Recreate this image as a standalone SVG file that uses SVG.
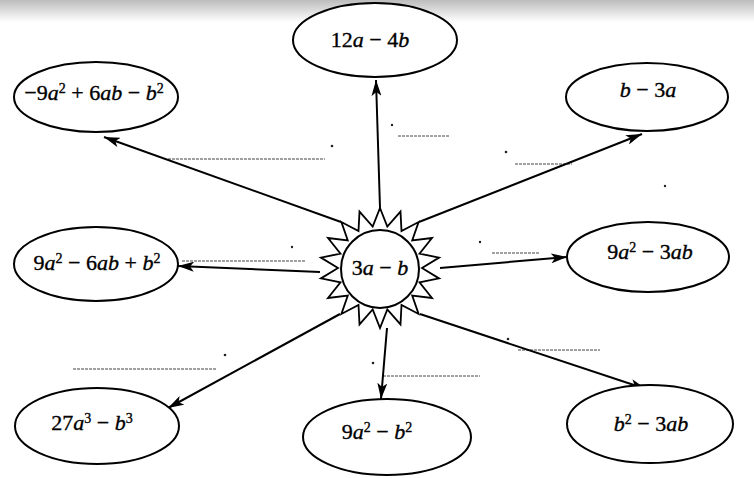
<svg xmlns="http://www.w3.org/2000/svg" width="754" height="478" viewBox="0 0 754 478">
<defs>
<linearGradient id="scan" x1="0" y1="0" x2="0" y2="1">
<stop offset="0" stop-color="#bdbdbd"/>
<stop offset="1" stop-color="#ffffff"/>
</linearGradient>
<marker id="arr" viewBox="0 0 16 10" refX="16" refY="5" markerWidth="16" markerHeight="10" orient="auto" markerUnits="userSpaceOnUse">
<path d="M0,0 L16,5 L0,10 L4,5 z" fill="#000"/>
</marker>
<style>
.node ellipse{fill:#fff;stroke:#000;stroke-width:2}
.lbl{font-family:"Liberation Serif",serif;font-size:22px;fill:#000;stroke:#000;stroke-width:0.35;text-anchor:middle}
.v{font-style:italic}
.sup{font-size:14px}
.conn line{stroke:#000;stroke-width:2;marker-end:url(#arr)}
.blank line{stroke:#444;stroke-width:1;stroke-dasharray:3 1}
.blank circle{fill:#222}
</style>
</defs>
<rect width="754" height="478" fill="#fff"/>
<rect width="754" height="22" fill="url(#scan)"/>

<g id="blanks" class="blank">
<line x1="168" y1="159" x2="325" y2="159"/>
<line x1="398" y1="136" x2="450" y2="136"/>
<line x1="515" y1="164" x2="572" y2="164"/>
<line x1="182" y1="261" x2="305" y2="261"/>
<line x1="492" y1="253" x2="540" y2="253"/>
<line x1="73" y1="369" x2="217" y2="369"/>
<line x1="383" y1="376" x2="480" y2="376"/>
<line x1="518" y1="350" x2="600" y2="350"/>
<circle cx="332" cy="146" r="1.3"/>
<circle cx="392" cy="125" r="1.2"/>
<circle cx="506" cy="152" r="1.3"/>
<circle cx="292" cy="247" r="1.2"/>
<circle cx="480" cy="242" r="1.2"/>
<circle cx="225" cy="355" r="1.3"/>
<circle cx="373" cy="363" r="1.3"/>
<circle cx="508" cy="339" r="1.3"/>
<circle cx="665" cy="186" r="1.2"/>
</g>

<g id="connectors" class="conn">
<line x1="380" y1="208" x2="376" y2="80"/>
<line x1="341" y1="222" x2="104" y2="137"/>
<line x1="419" y1="222" x2="642" y2="134"/>
<line x1="320" y1="272" x2="178" y2="266"/>
<line x1="440" y1="268" x2="567" y2="257"/>
<line x1="340" y1="314" x2="168" y2="408"/>
<line x1="387" y1="328" x2="381" y2="399"/>
<line x1="420" y1="314" x2="646" y2="389"/>
</g>

<g id="center" class="node">
<polygon points="380,208 387.3,226.6 400.5,211.6 401.5,231.1 418.6,222.0 412.2,240.4 432,238 419.5,253.6 439.1,257.6 422,268 439.1,278.4 419.5,282.4 432,298 412.2,295.6 418.6,314 401.5,304.9 400.5,324.4 387.3,309.4 380,328 372.7,309.4 359.5,324.4 358.5,304.9 341.4,314 347.8,295.6 328,298 340.5,282.4 320.9,278.4 338,268 320.9,257.6 340.5,253.6 328,238 347.8,240.4 341.4,222.0 358.5,231.1 359.5,211.6 372.7,226.6" fill="#fff" stroke="#000" stroke-width="1.8" stroke-linejoin="miter"/>
<circle cx="380" cy="269" r="39" fill="#fff" stroke="#000" stroke-width="2"/>
<text class="lbl" x="380" y="275">3<tspan class="v">a</tspan> − <tspan class="v">b</tspan></text>
</g>

<g id="n-top" class="node">
<ellipse cx="375" cy="40" rx="82" ry="37"/>
<text class="lbl" x="370" y="47">12<tspan class="v">a</tspan> − 4<tspan class="v">b</tspan></text>
</g>

<g id="n-topleft" class="node">
<ellipse cx="96" cy="97" rx="82" ry="35"/>
<text class="lbl" x="94" y="100">−9<tspan class="v">a</tspan><tspan class="sup" dy="-7">2</tspan><tspan dy="7"> + 6</tspan><tspan class="v">ab</tspan> − <tspan class="v">b</tspan><tspan class="sup" dy="-7">2</tspan></text>
</g>

<g id="n-topright" class="node">
<ellipse cx="647" cy="97" rx="81" ry="34"/>
<text class="lbl" x="648" y="97"><tspan class="v">b</tspan> − 3<tspan class="v">a</tspan></text>
</g>

<g id="n-left" class="node">
<ellipse cx="96" cy="264" rx="82" ry="37"/>
<text class="lbl" x="97" y="270">9<tspan class="v">a</tspan><tspan class="sup" dy="-7">2</tspan><tspan dy="7"> − 6</tspan><tspan class="v">ab</tspan> + <tspan class="v">b</tspan><tspan class="sup" dy="-7">2</tspan></text>
</g>

<g id="n-right" class="node">
<ellipse cx="648" cy="257" rx="81" ry="35"/>
<text class="lbl" x="650" y="259">9<tspan class="v">a</tspan><tspan class="sup" dy="-7">2</tspan><tspan dy="7"> − 3</tspan><tspan class="v">ab</tspan></text>
</g>

<g id="n-bottomleft" class="node">
<ellipse cx="97" cy="426" rx="82" ry="38"/>
<text class="lbl" x="92" y="430">27<tspan class="v">a</tspan><tspan class="sup" dy="-7">3</tspan><tspan dy="7"> − </tspan><tspan class="v">b</tspan><tspan class="sup" dy="-7">3</tspan></text>
</g>

<g id="n-bottom" class="node">
<ellipse cx="387" cy="437" rx="84" ry="38"/>
<text class="lbl" x="377" y="439">9<tspan class="v">a</tspan><tspan class="sup" dy="-7">2</tspan><tspan dy="7"> − </tspan><tspan class="v">b</tspan><tspan class="sup" dy="-7">2</tspan></text>
</g>

<g id="n-bottomright" class="node">
<ellipse cx="650" cy="424" rx="83" ry="39"/>
<text class="lbl" x="651" y="431"><tspan class="v">b</tspan><tspan class="sup" dy="-7">2</tspan><tspan dy="7"> − 3</tspan><tspan class="v">ab</tspan></text>
</g>
</svg>
